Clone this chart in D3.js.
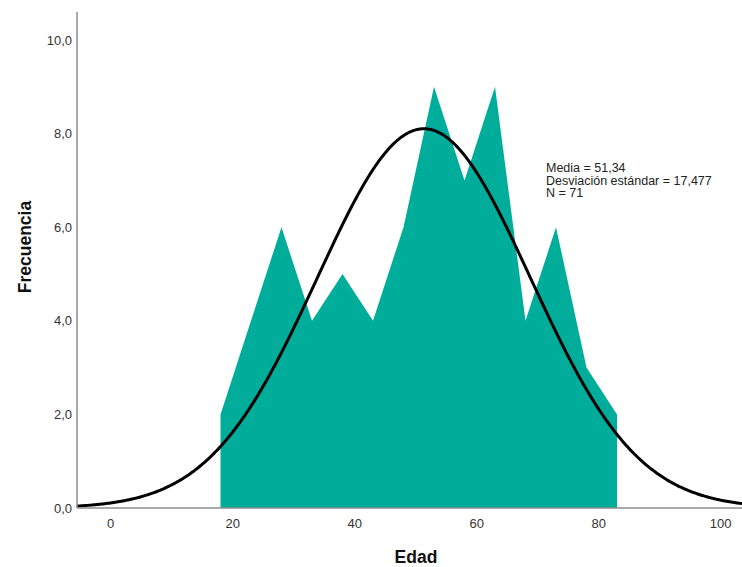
<!DOCTYPE html>
<html>
  <head>
    <meta charset="utf-8">
    <title>Edad</title>
    <script src="https://cdn.jsdelivr.net/npm/d3@7"></script>
    <style>
body {
  margin: 0;
  background: #fff;
  font-family: "Liberation Sans", Arial, sans-serif;
}
.axis-line {
  stroke: #8c8c8c;
  stroke-width: 1.5px;
}
.tick-label {
  font-size: 13px;
  fill: #333;
}
.title {
  font-size: 17.5px;
  font-weight: bold;
  fill: #111;
}
.area {
  fill: #00ad9a;
}
.curve {
  fill: none;
  stroke: #000;
  stroke-width: 3px;
}
.stats {
  font-size: 12.5px;
  fill: #222;
}
    </style>
  </head>
  <body>
    <script>

// age classes (midpoints) and counts
var ages = [18, 23, 28, 33, 38, 43, 48, 53, 58, 63, 68, 73, 78, 83];
var counts = [2, 4, 6, 4, 5, 4, 6, 9, 7, 9, 4, 6, 3, 2];
var xTicks = [0, 20, 40, 60, 80, 100];
var yTicks = [0, 2, 4, 6, 8, 10];
var mean = 51.34, sd = 17.477, n = 71, binWidth = 5;
var statsLines = ["Media = 51,34", "Desviación estándar = 17,477", "N = 71"];

var w = 742, h = 567;

var x = d3.scaleLinear().domain([0, 100]).range([110.7, 720.7]),
    y = d3.scaleLinear().domain([0, 10]).range([508, 40]);

var xMin = x.invert(77), xMax = x.invert(742);

var svg = d3.select("body").append("svg")
    .attr("width", w)
    .attr("height", h);

var fmt = function(d) { return d3.format(".1f")(d).replace(".", ","); };

// area
var data = ages.map(function(a, i) { return {x: a, y: counts[i]}; });
svg.append("path")
    .datum(data)
    .attr("class", "area")
    .attr("d", d3.area()
      .x(function(d) { return x(d.x); })
      .y0(y(0))
      .y1(function(d) { return y(d.y); }));

// normal curve
var curve = d3.range(xMin, xMax + 0.25, 0.25).map(function(v) {
  var z = (v - mean) / sd;
  return {x: v, y: n * binWidth * Math.exp(-0.5 * z * z) / (sd * Math.sqrt(2 * Math.PI))};
});
svg.append("path")
    .datum(curve)
    .attr("class", "curve")
    .attr("d", d3.line()
      .x(function(d) { return x(d.x); })
      .y(function(d) { return y(d.y); }));

// axes
svg.append("line")
    .attr("class", "axis-line")
    .attr("x1", 77).attr("x2", 77)
    .attr("y1", y(10.6)).attr("y2", y(0));
svg.append("line")
    .attr("class", "axis-line")
    .attr("x1", 77).attr("x2", 742)
    .attr("y1", y(0)).attr("y2", y(0));

svg.selectAll("text.ytick")
    .data(yTicks)
  .enter().append("text")
    .attr("class", "tick-label ytick")
    .attr("x", 72)
    .attr("y", function(d) { return y(d); })
    .attr("dy", ".35em")
    .attr("text-anchor", "end")
    .text(fmt);

svg.selectAll("text.xtick")
    .data(xTicks)
  .enter().append("text")
    .attr("class", "tick-label xtick")
    .attr("x", function(d) { return x(d); })
    .attr("y", 528)
    .attr("text-anchor", "middle")
    .text(function(d) { return d; });

svg.append("text")
    .attr("class", "title")
    .attr("x", 416)
    .attr("y", 562.5)
    .attr("text-anchor", "middle")
    .text("Edad");

svg.append("text")
    .attr("class", "title")
    .attr("transform", "translate(31,247) rotate(-90)")
    .attr("text-anchor", "middle")
    .text("Frecuencia");

svg.append("g")
    .selectAll("text")
    .data(statsLines)
  .enter().append("text")
    .attr("class", "stats")
    .attr("x", 546)
    .attr("y", function(d, i) { return 172 + i * 12.5; })
    .text(function(d) { return d; });

    </script>
  </body>
</html>
